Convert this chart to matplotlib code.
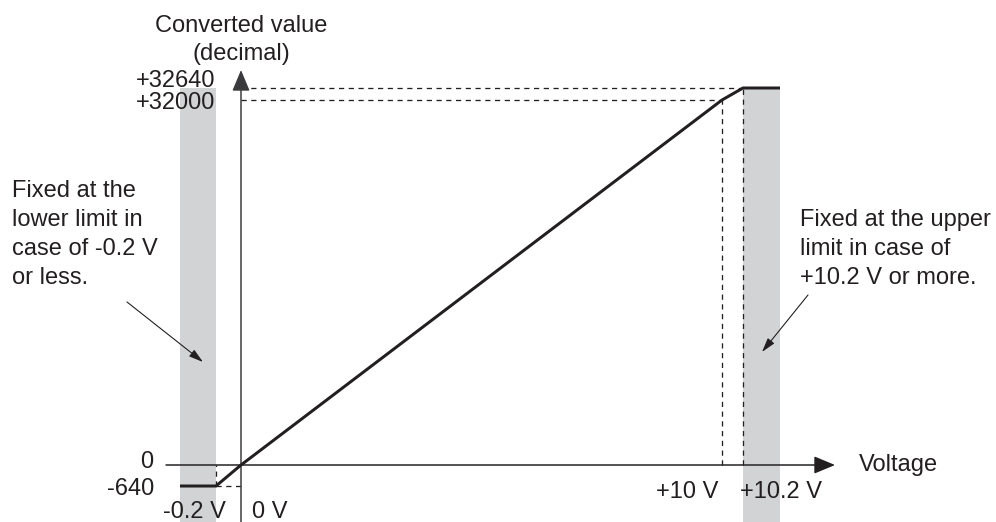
import matplotlib.pyplot as plt
import numpy as np

# ================================
# %% Data
# ++++++++++++++++++++++++++++++++

# Corners of the conversion characteristic (input voltage [V] -> digital value)
voltage = [-0.5, -0.2, 0.0, 10.0, 10.2, 10.5]
converted = [-640, -640, 0, 32000, 32640, 32640]

# Over-range regions where the output is clamped
lower_band = [-0.5, -0.2]
upper_band = [10.2, 10.5]

# Guide values and their labels
volt_ticks = [-0.2, 0.0, 10.0, 10.2]
volt_labels = ["-0.2 V", "0 V", "+10 V", "+10.2 V"]
value_ticks = [-640, 0, 32000, 32640]
value_labels = ["-640", "0", "+32000", "+32640"]

lower_note = "Fixed at the\nlower limit in\ncase of -0.2 V\nor less."
upper_note = "Fixed at the upper\nlimit in case of\n+10.2 V or more."

# ================================
# %% Style
# ++++++++++++++++++++++++++++++++

W, H, DPI = 996, 522, 100
PT = 72 / DPI  # points per pixel

ink = "#231f20"
band_gray = "#d1d3d4"
axis_gray = "#3a3a3c"

plt.rcParams["font.family"] = ["Liberation Sans", "DejaVu Sans"]
plt.rcParams["font.size"] = 17
plt.rcParams["text.color"] = ink

# ================================
# %% Schematic scale (not to scale, like a datasheet sketch)
# ++++++++++++++++++++++++++++++++

def piecewise(xp, fp):
    xp = np.asarray(xp, float)
    fp = np.asarray(fp, float)
    lo = (fp[1] - fp[0]) / (xp[1] - xp[0])
    hi = (fp[-1] - fp[-2]) / (xp[-1] - xp[-2])

    def f(x):
        x = np.asarray(x, float)
        y = np.interp(x, xp, fp)
        y = np.where(x < xp[0], fp[0] + (x - xp[0]) * lo, y)
        y = np.where(x > xp[-1], fp[-1] + (x - xp[-1]) * hi, y)
        return y
    return f

# anchor -> pixel position
x_anchor = [-0.5, -0.2, 0.0, 10.0, 10.2, 10.5]
x_pixel = [180, 216, 241, 722, 743, 780]
y_anchor = [-640, 0, 32000, 32640]
y_pixel = [H - 486, H - 465, H - 100, H - 88]

fwd_x, inv_x = piecewise(x_anchor, x_pixel), piecewise(x_pixel, x_anchor)
fwd_y, inv_y = piecewise(y_anchor, y_pixel), piecewise(y_pixel, y_anchor)

fig = plt.figure(figsize=(W / DPI, H / DPI), dpi=DPI)
ax = fig.add_axes([0, 0, 1, 1])
ax.set_xscale("function", functions=(fwd_x, inv_x))
ax.set_yscale("function", functions=(fwd_y, inv_y))
ax.set_xlim(float(inv_x(0)), float(inv_x(W)))
ax.set_ylim(float(inv_y(0)), float(inv_y(H)))
ax.axis("off")
ybot = ax.get_ylim()[0]

# ================================
# %% Over-range bands
# ++++++++++++++++++++++++++++++++

ax.fill_between(lower_band, ybot, converted[-1], color=band_gray, lw=0, zorder=0)
ax.fill_between(upper_band, ybot, converted[-1], color=band_gray, lw=0, zorder=0)

# ================================
# %% Dashed guides
# ++++++++++++++++++++++++++++++++

dash = dict(color=ink, lw=1.3 * PT, linestyle=(0, (4, 3.5)), zorder=1)
v_lo, v0, v_fs, v_hi = volt_ticks
d_lo, d0, d_fs, d_hi = value_ticks
ax.plot([v0, v_hi], [d_hi, d_hi], **dash)
ax.plot([v0, v_fs], [d_fs, d_fs], **dash)
ax.plot([v_lo, v0], [d_lo, d_lo], **dash)
ax.plot([v_fs, v_fs], [d0, d_fs], **dash)
ax.plot([v_hi, v_hi], [d0, d_hi], **dash)
ax.plot([v_lo, v_lo], [d_lo, d0], **dash)

# ================================
# %% Axes with arrow heads
# ++++++++++++++++++++++++++++++++

axis_arrow = dict(
    arrowstyle=f"-|>,head_length={18 * PT},head_width={7.5 * PT}",
    mutation_scale=1, color=ink, lw=1.5 * PT, shrinkA=0, shrinkB=0,
)
ax.annotate("", xy=(835 / W, 0), xytext=(166 / W, 0),
            xycoords=("axes fraction", "data"), arrowprops=axis_arrow, zorder=3)
ax.annotate("", xy=(0, 1 - 70 / H), xytext=(0, 0),
            xycoords=("data", "axes fraction"),
            arrowprops=dict(axis_arrow, color=axis_gray), zorder=3)

ax.annotate("Converted value\n(decimal)", xy=(0, 1 - 40 / H),
            xycoords=("data", "axes fraction"), ha="center", va="center",
            linespacing=1.35)
ax.annotate("Voltage", xy=(859 / W, 0), xycoords=("axes fraction", "data"),
            ha="left", va="center")

# ================================
# %% Characteristic
# ++++++++++++++++++++++++++++++++

ax.plot(voltage, converted, color=ink, lw=3 * PT, solid_joinstyle="miter",
        solid_capstyle="butt", zorder=4)

# ================================
# %% Labels
# ++++++++++++++++++++++++++++++++

# offsets in pixels from (0 V, value) and (voltage, 0)
value_offsets = [(-87, -3), (-88, 3), (-26, -3), (-26, 7)]
for val, lab, (dx, dy) in zip(value_ticks, value_labels, value_offsets):
    ax.annotate(lab, xy=(0, val), xytext=(dx * PT, dy * PT),
                textcoords="offset points", ha="right", va="center")

volt_offsets = [(10, -47, "right"), (11, -47, "left"), (-4, -27, "right"), (-3, -27, "left")]
for v, lab, (dx, dy, ha) in zip(volt_ticks, volt_labels, volt_offsets):
    ax.annotate(lab, xy=(v, 0), xytext=(dx * PT, dy * PT),
                textcoords="offset points", ha=ha, va="center")

# ================================
# %% Notes
# ++++++++++++++++++++++++++++++++

note_arrow = dict(arrowstyle=f"-|>,head_length={12 * PT},head_width={3.5 * PT}",
                  mutation_scale=1, color=ink, lw=1.1 * PT, shrinkA=0, shrinkB=0)

ax.text(12, H - 180, lower_note, transform=None, ha="left", va="top", linespacing=1.42)
ax.text(800, H - 209, upper_note, transform=None, ha="left", va="top", linespacing=1.42)
ax.annotate("", xy=(203, H - 362), xytext=(127, H - 302),
            xycoords="figure pixels", arrowprops=note_arrow)
ax.annotate("", xy=(762, H - 352), xytext=(808, H - 295),
            xycoords="figure pixels", arrowprops=note_arrow)

fig.savefig("out.png", dpi=DPI)
